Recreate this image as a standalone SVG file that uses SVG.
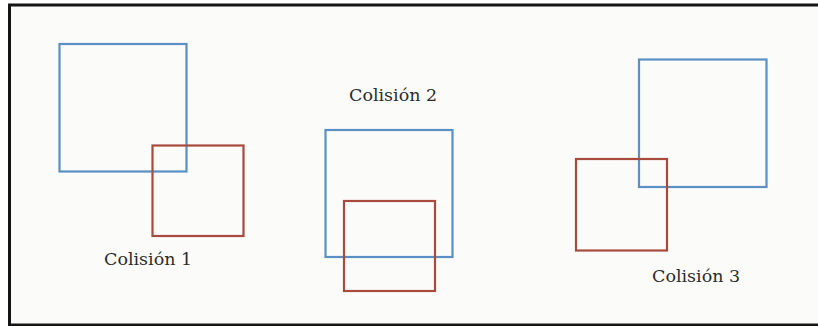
<svg xmlns="http://www.w3.org/2000/svg" width="818" height="326" viewBox="0 0 818 326">
<style>
.blue{fill:none;stroke:#5a90c4;stroke-width:2.2}
.red{fill:none;stroke:#a84a3c;stroke-width:2.2}
.lbl{font-family:"DejaVu Serif","Liberation Serif",serif;font-size:17.5px;fill:#2b2b2b}
</style>
<rect x="0" y="0" width="818" height="326" fill="#ffffff"/>
<rect x="9.5" y="5" width="808.5" height="320" fill="#fbfbfa"/>
<path d="M818 5 H9.5 V325 H818" fill="none" stroke="#151515" stroke-width="3"/>
<g id="colision1">
<rect class="blue" x="59.5" y="44" width="127" height="127.5"/>
<rect class="red" x="152.5" y="145.5" width="91" height="90.5"/>
<text class="lbl" x="104" y="265">Colisión 1</text>
</g>
<g id="colision2">
<text class="lbl" x="349" y="100.5">Colisión 2</text>
<rect class="blue" x="325.5" y="130" width="127" height="127"/>
<rect class="red" x="344" y="201" width="91" height="90"/>
</g>
<g id="colision3">
<rect class="blue" x="639" y="59.5" width="127.5" height="127.5"/>
<rect class="red" x="576" y="159" width="91" height="91.5"/>
<text class="lbl" x="652" y="282">Colisión 3</text>
</g>
</svg>
